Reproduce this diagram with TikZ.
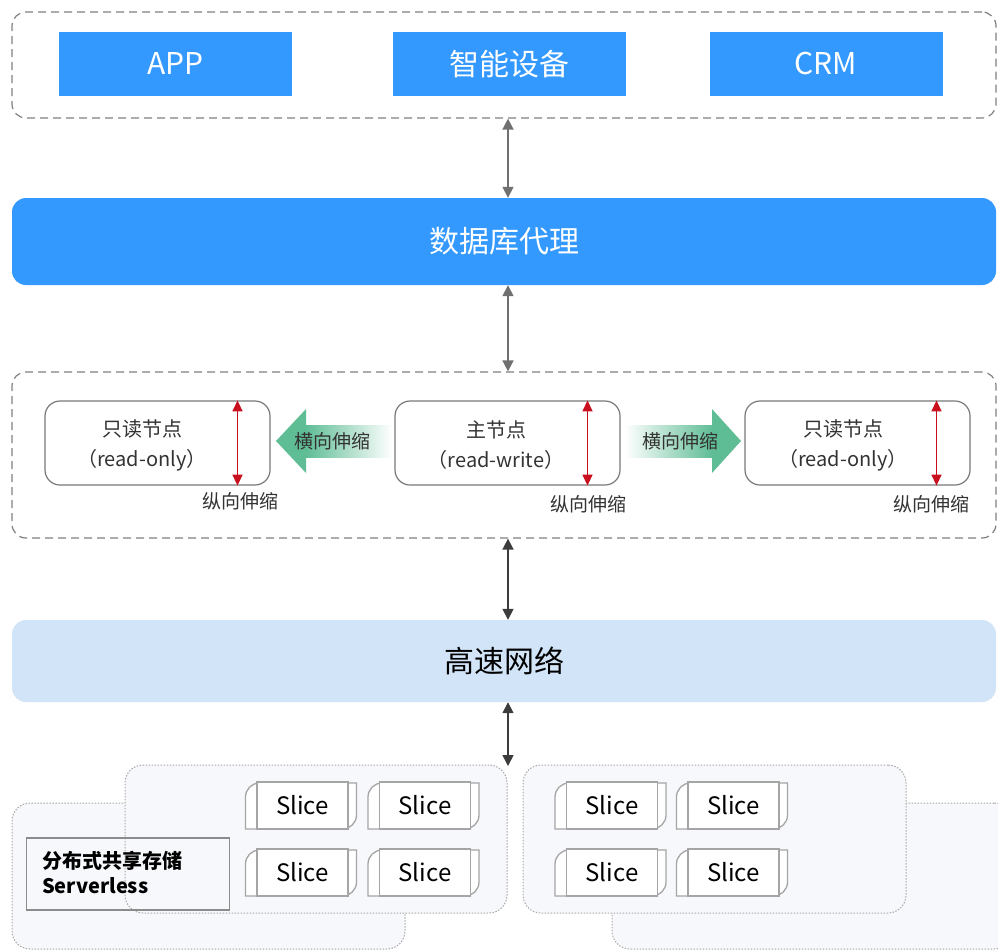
\documentclass[tikz,border=0pt]{standalone}
\usepackage{fontspec}
\setmainfont{Noto Sans CJK SC}
\usetikzlibrary{arrows.meta}
\definecolor{topblue}{RGB}{51,153,255}
\definecolor{netblue}{RGB}{209,228,248}
\definecolor{dashgray}{RGB}{128,128,128}
\definecolor{nodegray}{RGB}{120,120,120}
\definecolor{agreen}{RGB}{95,189,150}
\definecolor{ared}{RGB}{200,16,30}
\definecolor{txt}{RGB}{51,51,51}
\definecolor{panelfill}{RGB}{247,248,252}
\definecolor{panelline}{RGB}{168,168,168}
\definecolor{slicegray}{RGB}{165,165,165}
\definecolor{arrgray}{RGB}{112,112,112}
\definecolor{arrdark}{RGB}{60,60,60}
\tikzset{
  bluebox/.style={fill=topblue, text=white, minimum width=233pt, minimum height=64pt, inner sep=0pt, font=\fontsize{30}{36}\selectfont},
  bar/.style={rounded corners=14pt, minimum width=984pt, inner sep=0pt, font=\fontsize{30}{36}\selectfont},
  container/.style={draw=dashgray, line width=1.2pt, dash pattern=on 8pt off 5pt, rounded corners=14pt, minimum width=984pt, inner sep=0pt},
  rnode/.style={draw=nodegray, line width=1.2pt, rounded corners=15pt, minimum width=225pt, minimum height=84pt, inner sep=0pt},
  ntext/.style={align=center, text=txt, inner sep=0pt, font=\fontsize{20}{30}\selectfont},
  stext/.style={text=txt, inner sep=0pt, font=\fontsize{19}{23}\selectfont},
  redarrow/.style={draw=ared, line width=1.5pt, {Triangle[length=11pt,width=10pt]}-{Triangle[length=11pt,width=10pt]}},
  grayarrow/.style={draw=arrgray, line width=1.6pt, {Triangle[length=11pt,width=11pt]}-{Triangle[length=11pt,width=11pt]}},
  darkarrow/.style={draw=arrdark, line width=1.6pt, {Triangle[length=11pt,width=11pt]}-{Triangle[length=11pt,width=11pt]}},
  panel/.style={draw=panelline, fill=panelfill, line width=1pt, dash pattern=on 1.5pt off 1.5pt, rounded corners=18pt, inner sep=0pt},
  slicebk/.style={draw=slicegray, fill=white, line width=1.3pt},
  slicefront/.style={draw=slicegray, fill=white, line width=1.3pt, minimum width=91pt, minimum height=47pt, inner sep=0pt, text=black, font=\fontsize{24}{28}\selectfont},
  slicepic/.pic={
    \draw[slicebk] (-57,23.5) -- (-57,-8.5) .. controls (-57,-16.2) and (-50.7,-22.5) .. (-43,-22.5) -- (54,-22.5) -- (54,9.5) .. controls (54,17.2) and (47.7,23.5) .. (40,23.5) -- cycle;
    \node[slicefront] (-f) at (0,0) {Slice};
  }
}
\begin{document}
\begin{tikzpicture}[x=1pt,y=-1pt]
\useasboundingbox (0,0) rectangle (998,951);
% top layer
\node[container, minimum height=106pt] (top) at (504,65) {};
\node[bluebox] (app) at (175.5,64) {APP};
\node[bluebox] (dev) at (509,64) {智能设备};
\node[bluebox] (crm) at (826,64) {CRM};
% proxy
\node[bar, fill=topblue, text=white, minimum height=87pt] (proxy) at (504,241.5) {数据库代理};
% middle layer
\node[container, minimum height=166pt] (mid) at (504,455) {};
\node[rnode] (ro1) at (157.5,443) {};
\node[rnode] (rw) at (507.5,443) {};
\node[rnode] (ro2) at (857.5,443) {};
\node[ntext] (ro1t) at (142,445) {只读节点\\（read-only）};
\node[ntext] (rwt) at (496,445) {主节点\\（read-write）};
\node[ntext] (ro2t) at (843,445) {只读节点\\（read-only）};
\draw[redarrow] ([xshift=80pt]ro1.north) -- ([xshift=80pt]ro1.south);
\draw[redarrow] ([xshift=80pt]rw.north) -- ([xshift=80pt]rw.south);
\draw[redarrow] ([xshift=79pt]ro2.north) -- ([xshift=79pt]ro2.south);
\node[stext] (v1) at (240,501) {纵向伸缩};
\node[stext] (v2) at (588,504) {纵向伸缩};
\node[stext] (v3) at (931,504) {纵向伸缩};
% horizontal scaling arrows
\shade[left color=agreen, right color=white] (306,425) rectangle (392,457);
\fill[agreen] (306,409) -- (276,441) -- (306,473) -- cycle;
\shade[left color=white, right color=agreen] (625,425) rectangle (712,457);
\fill[agreen] (712,409) -- (741,441) -- (712,473) -- cycle;
\node[stext] (h1) at (332,441) {横向伸缩};
\node[stext] (h2) at (680,441) {横向伸缩};
% network
\node[bar, fill=netblue, text=black, minimum height=82pt] (net) at (504,661) {高速网络};
% storage panels
\node[panel, minimum width=393pt, minimum height=146pt] (bl) at (208.5,876) {};
\node[panel, minimum width=382pt, minimum height=148pt] (fl) at (316,839) {};
\node[panel, minimum width=400pt, minimum height=146pt] (br) at (812,876) {};
\node[panel, minimum width=383pt, minimum height=148pt] (fr) at (714.5,839) {};
\node[draw=slicegray!85!black, line width=1.5pt, minimum width=203pt, minimum height=72pt, inner sep=0pt] (dss) at (128,874) {};
\node[anchor=west, align=left, inner sep=0pt, font=\bfseries\fontsize{20}{25}\selectfont] (dsst) at (42,872) {分布式共享存储\\Serverless};
\pic (s1) at (302.5,805.5) {slicepic};
\pic (s2) at (425,805.5) {slicepic};
\pic (s3) at (302.5,872.5) {slicepic};
\pic (s4) at (425,872.5) {slicepic};
\pic (s5) at (612,805.5) {slicepic};
\pic (s6) at (733.5,805.5) {slicepic};
\pic (s7) at (612,872.5) {slicepic};
\pic (s8) at (733.5,872.5) {slicepic};
% vertical connectors
\coordinate (ax) at (508,0);
\coordinate (stor) at (508,766);
\draw[grayarrow] (top.south -| ax) -- (proxy.north -| ax);
\draw[grayarrow] (proxy.south -| ax) -- (mid.north -| ax);
\draw[darkarrow] (mid.south -| ax) -- (net.north -| ax);
\draw[darkarrow] (net.south -| ax) -- (stor);
\end{tikzpicture}
\end{document}
